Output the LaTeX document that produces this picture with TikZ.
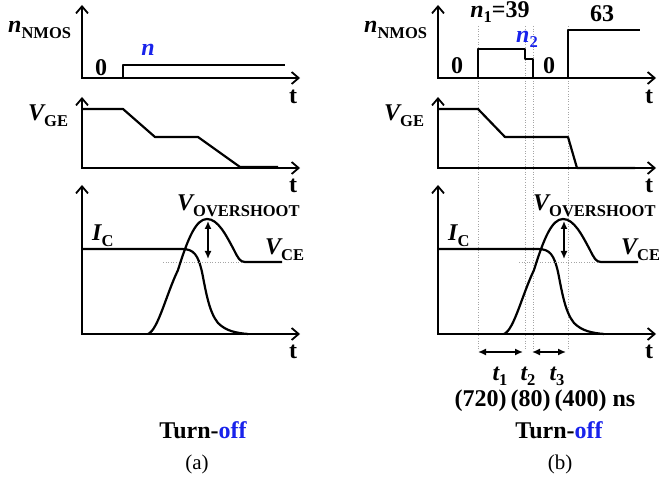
\documentclass[tikz,border=0pt]{standalone}
\usepackage{fontspec}
\setmainfont{Liberation Serif}
\usetikzlibrary{arrows.meta}
\definecolor{offblue}{RGB}{25,35,235}
\definecolor{dotgray}{RGB}{165,165,165}
\newcommand\lsub[1]{\raisebox{-0.22em}{\fontsize{16.5}{18}\selectfont\bfseries\upshape #1}}
\begin{document}
\begin{tikzpicture}[x=1pt,y=-1pt,
  axes/.style={line width=1.8pt,{Straight Barb[length=7pt,width=12pt]}-{Straight Barb[length=7pt,width=12pt]}},
  sig/.style={line width=2.2pt,line join=round},
  guide/.style={dotgray,line width=0.9pt,dash pattern=on 1pt off 1.6pt},
  lbl/.style={font=\fontsize{24}{28}\selectfont\bfseries,inner sep=0pt},
  captxt/.style={font=\fontsize{21}{24}\selectfont,inner sep=0pt},
  dbl/.style={line width=1.5pt,{Latex[length=8pt,width=7pt]}-{Latex[length=8pt,width=7pt]}}
]
\useasboundingbox (0,0) rectangle (659,481);

% ---------- guides of panel (b) ----------
\foreach \gx in {478,525,533,568}{
  \draw[guide] (\gx,26) -- (\gx,350);
}

% ---------- common frames ----------
\foreach \dx/\p in {0/a,356/b}{
\begin{scope}[xshift=\dx pt]
  % axes
  \coordinate (\p-o1) at (82,78);
  \coordinate (\p-o2) at (82,168);
  \coordinate (\p-o3) at (82,334);
  \draw[axes] (82,5) -- (\p-o1) -- (300,78);
  \draw[axes] (82,97) -- (\p-o2) -- (300,168);
  \draw[axes] (82,185) -- (\p-o3) -- (300,334);
  \node[lbl] (\p-t1) at (293,97) {t};
  \node[lbl] (\p-t2) at (293,186) {t};
  \node[lbl] (\p-t3) at (293,352) {t};
  % labels
  \node[lbl,anchor=base west] (\p-nm) at (8,33) {\itshape n\lsub{NMOS}};
  \node[lbl,anchor=base west] (\p-vge) at (28,121) {\itshape V\lsub{GE}};
  \node[lbl,anchor=base west] (\p-ic) at (92,241) {\itshape I\lsub{C}};
  \node[lbl,anchor=base west] (\p-vos) at (177,211) {\itshape V\lsub{OVERSHOOT}};
  \node[lbl,anchor=base west] (\p-vce) at (265,255) {\itshape V\lsub{CE}};
  % I_C
  \draw[sig] (82,249) -- (182,249) .. controls (194,249) and (198,255) .. (202,272)
     .. controls (206,292) and (209,312) .. (218,323)
     .. controls (226,331) and (236,333) .. (248,334);
  % V_CE
  \draw[guide] (163,262) -- (245,262);
  \draw[sig] (148,334) .. controls (158,330) and (166,295) .. (178,270)
     .. controls (188,238) and (196,219) .. (207,219)
     .. controls (218,219) and (226,235) .. (234,250)
     .. controls (238,258) and (240,262) .. (245,262) -- (282,262);
  \coordinate (\p-pk) at (208,221);
  \coordinate (\p-bs) at (208,259);
  \draw[dbl] (\p-pk) -- (\p-bs);
\end{scope}
}

% ---------- panel (a) signals ----------
\draw[sig] (82,78) -- (123,78) -- (123,65) -- (285,65);
\node[lbl] (a-zero) at (101,68) {0};
\node[lbl,text=offblue] (a-n) at (148,50) {\itshape n};
\draw[sig] (82,109) -- (123,109) -- (155,137) -- (198,137) -- (240,167) -- (278,167);
\node[lbl] (a-turn) at (203,430) {Turn-\textcolor{offblue}{off}};
\node[captxt] (a-cap) at (197,464) {(a)};

% ---------- panel (b) signals ----------
\draw[sig] (438,78) -- (478,78) -- (478,49) -- (525,49) -- (525,59) -- (533,59)
   -- (533,78) -- (568,78) -- (568,30) -- (640,30);
\node[lbl] (b-zero1) at (457,66) {0};
\node[lbl] (b-zero2) at (549,66) {0};
\node[lbl] (b-n1) at (500,12) {\itshape n\lsub{1}\upshape =39};
\node[lbl,text=offblue] (b-n2) at (527,39) {\itshape n\lsub{2}};
\node[lbl] (b-63) at (602,14) {63};
\draw[sig] (438,109) -- (478,109) -- (505,137) -- (568,137) -- (577,168) -- (635,168);

\coordinate (d1) at (478,352);
\coordinate (d2) at (523,352);
\coordinate (d3) at (532,352);
\coordinate (d4) at (566,352);
\draw[dbl] (d1) -- (d2);
\draw[dbl] (d3) -- (d4);
\node[lbl,anchor=base] (b-tt1) at (500,380) {\itshape t\lsub{1}};
\node[lbl,anchor=base] (b-tt2) at (528,380) {\itshape t\lsub{2}};
\node[lbl,anchor=base] (b-tt3) at (557,380) {\itshape t\lsub{3}};
\node[lbl] (b-ns) at (545,401) {(720)\,(80)\,(400) ns};
\node[lbl] (b-turn) at (559,430) {Turn-\textcolor{offblue}{off}};
\node[captxt] (b-cap) at (560,464) {(b)};
\end{tikzpicture}
\end{document}
